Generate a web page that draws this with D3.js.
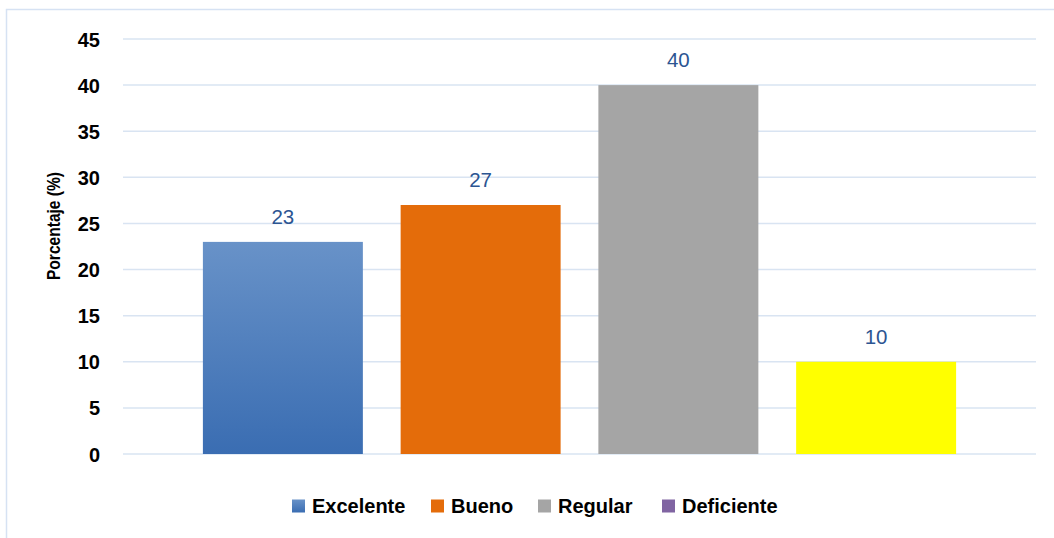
<!DOCTYPE html>
<html>
<head>
<meta charset="utf-8">
<script src="https://cdn.jsdelivr.net/npm/d3@7"></script>
<style>
  html, body { margin: 0; padding: 0; background: #fff; }
  svg { display: block; }
</style>
</head>
<body>
<svg id="chart" width="1054" height="538"></svg>
<script>
// Data
const categories = ["Excelente", "Bueno", "Regular", "Deficiente"];
const values = [23, 27, 40, 10];
const barColors = ["url(#gradExcelente)", "#E46C0A", "#A5A5A5", "#FFFF00"];
const legendColors = ["url(#gradExcelente)", "#E46C0A", "#A5A5A5", "#8064A2"];
const yTicks = [0, 5, 10, 15, 20, 25, 30, 35, 40, 45];
const yTitle = "Porcentaje (%)";

const svg = d3.select("#chart");
const font = "'Liberation Sans', Arial, sans-serif";

// Gradient for the first series
const defs = svg.append("defs");
const g1 = defs.append("linearGradient").attr("id", "gradExcelente")
  .attr("x1", 0).attr("y1", 0).attr("x2", 0).attr("y2", 1);
g1.append("stop").attr("offset", "0%").attr("stop-color", "#6892C8");
g1.append("stop").attr("offset", "100%").attr("stop-color", "#3A6DB2");

// Chart frame
svg.append("rect")
  .attr("x", 6.5).attr("y", 9.5).attr("width", 1060).attr("height", 540)
  .attr("fill", "#fff").attr("stroke", "#D6E2F3").attr("stroke-width", 1.5);

const plot = { left: 123, right: 1036, top: 39, bottom: 454 };

const y = d3.scaleLinear().domain([0, 45]).range([plot.bottom, plot.top]);
const x = d3.scaleBand().domain(categories)
  .range([plot.left, plot.right])
  .paddingInner(0.191).paddingOuter(0.404);

// Gridlines
svg.append("g")
  .selectAll("line").data(yTicks).join("line")
  .attr("x1", plot.left).attr("x2", plot.right)
  .attr("y1", d => y(d)).attr("y2", d => y(d))
  .attr("stroke", "#D9E4F2").attr("stroke-width", 1.5);

// Y axis labels
const yAxis = d3.axisLeft(y).tickValues(yTicks).tickSize(0).tickPadding(0);
const ya = svg.append("g").attr("transform", `translate(100,0)`).call(yAxis);
ya.select(".domain").remove();
ya.selectAll("text")
  .attr("font-family", font).attr("font-size", 20).attr("font-weight", "bold")
  .attr("fill", "#000").attr("dy", "0.35em");

// Y axis title
svg.append("text")
  .attr("transform", "translate(60,226) rotate(-90)")
  .attr("text-anchor", "middle")
  .attr("font-family", font).attr("font-size", 19).attr("font-weight", "bold")
  .attr("textLength", 108).attr("lengthAdjust", "spacingAndGlyphs")
  .attr("fill", "#000")
  .text(yTitle);

// Bars
svg.append("g")
  .selectAll("rect").data(values).join("rect")
  .attr("x", (d, i) => x(categories[i]))
  .attr("width", x.bandwidth())
  .attr("y", d => y(d))
  .attr("height", d => y(0) - y(d))
  .attr("fill", (d, i) => barColors[i]);

// Value labels
svg.append("g")
  .selectAll("text").data(values).join("text")
  .attr("x", (d, i) => x(categories[i]) + x.bandwidth() / 2)
  .attr("y", d => y(d) - 18)
  .attr("text-anchor", "middle")
  .attr("font-family", font).attr("font-size", 20.5)
  .attr("fill", "#2C5592")
  .text(d => d);

// Legend
const legendX = [292, 431, 538, 662];
const legend = svg.append("g");
categories.forEach((c, i) => {
  legend.append("rect")
    .attr("x", legendX[i]).attr("y", 499.5)
    .attr("width", 13).attr("height", 13)
    .attr("fill", legendColors[i]);
  legend.append("text")
    .attr("x", legendX[i] + 20).attr("y", 513)
    .attr("font-family", font).attr("font-size", 20).attr("font-weight", "bold")
    .attr("fill", "#000")
    .text(c);
});
</script>
</body>
</html>
